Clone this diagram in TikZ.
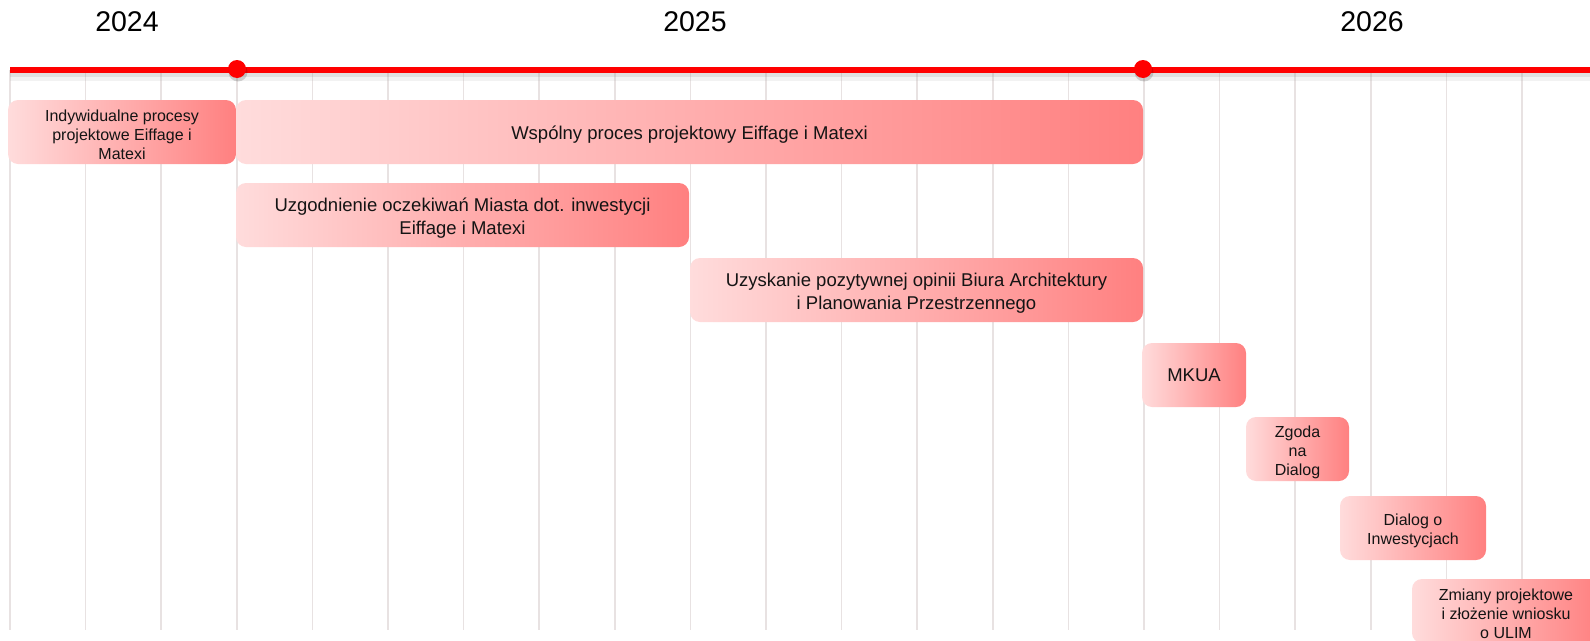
\documentclass[tikz,border=0pt]{standalone}
\usepackage{fontspec}
\setmainfont{Liberation Sans}
\definecolor{gridc}{RGB}{232,226,226}
\definecolor{lightp}{RGB}{255,220,220}
\definecolor{salmon}{RGB}{255,128,128}
\definecolor{txt}{RGB}{20,20,20}
\definecolor{tlred}{RGB}{255,0,0}
\tikzset{
  phase/.style={rounded corners=10pt, left color=lightp, right color=salmon, draw=none},
  lbl/.style={inner sep=0pt, align=center, text=txt},
  small/.style={font=\fontsize{16}{19}\selectfont},
  medium/.style={font=\fontsize{18.5}{22.5}\selectfont},
  year/.style={inner sep=0pt, font=\fontsize{28.5}{32}\selectfont},
  gridline/.style={draw=gridc, line width=1.5pt},
  tl/.style={draw=tlred, line width=5.5pt},
  ms/.style={fill=tlred, draw=none}
}
\begin{document}
\begin{tikzpicture}[x=1pt,y=-1pt]
\clip (0,0) rectangle (1590,640);
\fill[white] (0,0) rectangle (1590,640);
% grid
\foreach \k in {0,...,20}{
  \draw[gridline] ({10+75.6*\k},70) -- ({10+75.6*\k},630);
}
% timeline shadow
\draw[black!40, opacity=0.2, line width=6pt] (10,74) -- (1590,74);
\draw[black!40, opacity=0.12, line width=9pt] (10,76) -- (1590,76);
% timeline
\coordinate (tlstart) at (10,70);
\coordinate (tlend) at (1590,70);
\draw[tl] (tlstart) -- (tlend);
\fill[black, opacity=0.15] (238,72) circle (9.5);
\fill[black, opacity=0.15] (1144,72) circle (9.5);
\fill[ms] (237,69) circle (9);
\fill[ms] (1143,69) circle (9);
\node[coordinate] (m1) at (237,69) {};
\node[coordinate] (m2) at (1143,69) {};
% years
\node[year] (y2024) at (127,22) {2024};
\node[year] (y2025) at (695,22) {2025};
\node[year] (y2026) at (1372,22) {2026};
% phases
\shade[phase] (8,100) rectangle (236,164);
\node[lbl, small] (b1) at (122,135) {Indywidualne procesy\\projektowe Eiffage i\\Matexi};
\shade[phase] (236,100) rectangle (1143,164);
\node[lbl, medium] (b2) at (689.5,135) {Wspólny proces projektowy Eiffage i Matexi};
\shade[phase] (236,183) rectangle (689,247);
\node[lbl, medium] (b3) at (462.5,218) {Uzgodnienie oczekiwań Miasta dot. inwestycji\\Eiffage i Matexi};
\shade[phase] (690,258) rectangle (1143,322);
\node[lbl, medium] (b4) at (916.5,293) {Uzyskanie pozytywnej opinii Biura Architektury\\i Planowania Przestrzennego};
\shade[phase] (1142,343) rectangle (1246,407);
\node[lbl, medium] (b5) at (1194,375.5) {MKUA};
\shade[phase] (1246,417) rectangle (1349,481);
\node[lbl, small] (b6) at (1297.5,452) {Zgoda\\na\\Dialog};
\shade[phase] (1340,496) rectangle (1486,560);
\node[lbl, small] (b7) at (1413,531) {Dialog o\\Inwestycjach};
\shade[phase] (1412,579) rectangle (1600,643);
\node[lbl, small] (b8) at (1506,614) {Zmiany projektowe\\i złożenie wniosku\\o ULIM};
\end{tikzpicture}
\end{document}
